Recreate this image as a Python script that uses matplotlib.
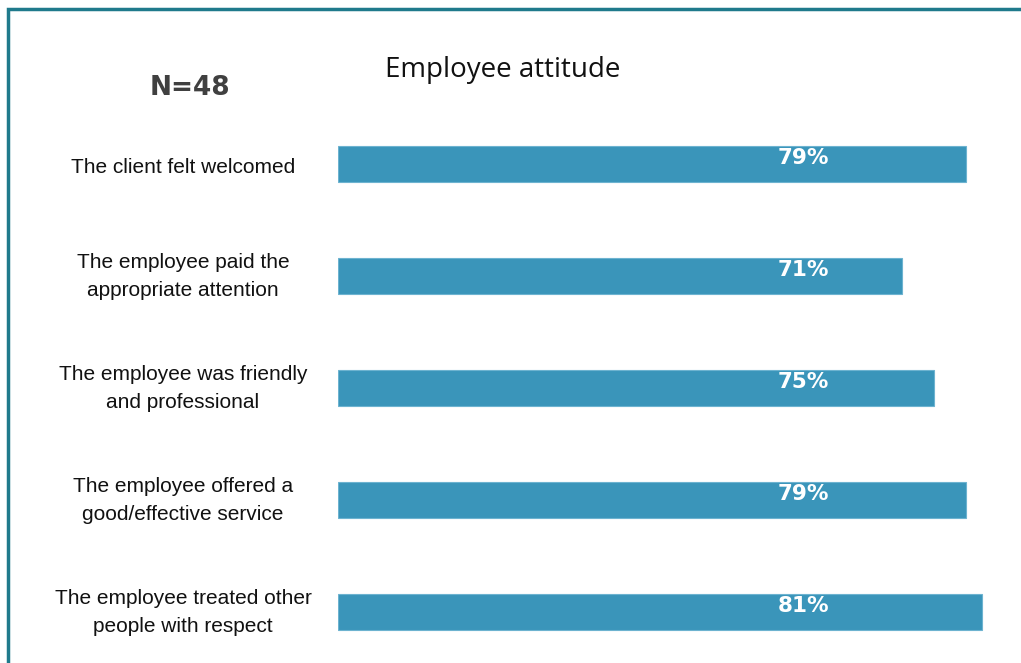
import matplotlib.pyplot as plt
from matplotlib import transforms
from matplotlib.patches import Rectangle

# survey items and share of positive answers
items = [
    "The client felt welcomed",
    "The employee paid the\nappropriate attention",
    "The employee was friendly\nand professional",
    "The employee offered a\ngood/effective service",
    "The employee treated other\npeople with respect",
]
shares = [79, 71, 75, 79, 81]
sample_size = 48

bar_color = "#3a95ba"
frame_color = "#1f7a8c"

W, H = 1021, 663
fig = plt.figure(figsize=(W / 100, H / 100), dpi=100)

# axes placed in pixel terms: value 0 sits at x=338, ~7.95 px per percent
x0, px_per = 338, 7.95
y_top, row = 108, 112
ax = fig.add_axes([x0 / W, (H - (y_top + 5 * row)) / H,
                   (W - x0) / W, 5 * row / H])
ax.set_xlim(0, (W - x0) / px_per)
ax.set_ylim(4.5, -0.5)

pos = list(range(len(items)))
ax.barh(pos, shares, height=0.32, color=bar_color,
        edgecolor="#6db3d0", linewidth=0.8)

for p, v in zip(pos, shares):
    ax.text(58.5, p - 0.05, f"{v}%", ha="center", va="center",
            color="white", fontsize=15.5, fontweight="bold",
            family="DejaVu Sans")

# category labels centred in the left margin
lab_tr = transforms.blended_transform_factory(fig.transFigure, ax.transData)
for p, name in zip(pos, items):
    dy = 0.03 if "\n" not in name else 0.0
    ax.text(183 / W, p + dy, name, transform=lab_tr, ha="center",
            va="center", fontsize=15, family="Liberation Sans",
            color="#111111", linespacing=1.6)

ax.axis("off")

fig.text(503 / W, 1 - 70 / H, "Employee attitude", ha="center", va="center",
         fontsize=20, family="Open Sans", color="#111111")
fig.text(190 / W, 1 - 88 / H, f"N={sample_size}", ha="center", va="center",
         fontsize=19, fontweight="bold", family="DejaVu Sans", color="#404040")

# outer frame, running off the right and bottom edges
fig.patches.append(Rectangle((7.5 / W, -0.05), 1.1, 1 - 9 / H + 0.05,
                             transform=fig.transFigure, fill=False,
                             edgecolor=frame_color, linewidth=2.5))

fig.savefig("out.png", dpi=100)
